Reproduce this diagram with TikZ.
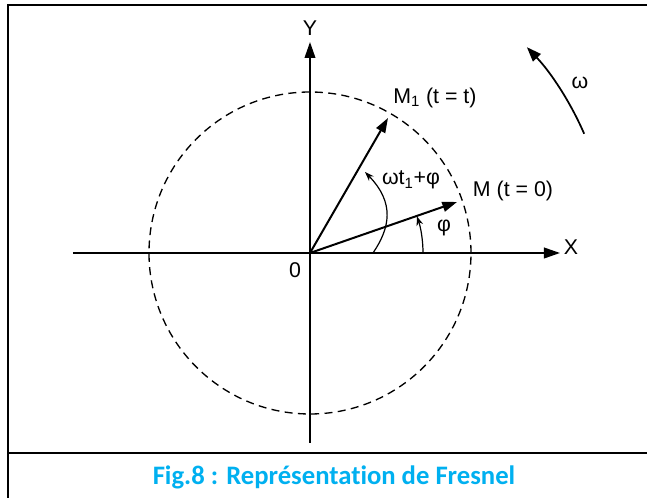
\documentclass[tikz,border=0pt]{standalone}
\usepackage{fontspec}
\setmainfont{Liberation Sans}
\newfontfamily\captionfont[Ligatures=NoCommon]{Carlito}
\usetikzlibrary{arrows.meta, positioning}
\definecolor{figblue}{HTML}{00B0F0}

\begin{document}
\begin{tikzpicture}[x=0.75pt, y=0.75pt,
  axis/.style={line width=1.3pt, -{Triangle[length=12pt,width=8pt]}},
  vector/.style={line width=1.5pt, -{Triangle[length=11pt,width=7.5pt]}},
  anglearrow/.style={line width=0.9pt, -{Stealth[length=7pt,width=5pt]}},
  lbl/.style={font=\fontsize{16}{19}\selectfont, inner sep=1pt}]
  % Frame and caption
  \useasboundingbox[fill=white] (-310,-245) rectangle (337,253);
  \draw[line width=1.5pt] (-302,-260) -- (-302,248) -- (360,248);
  \draw[line width=1.5pt] (-302,-200) -- (360,-200);
  \node[font=\captionfont\bfseries\fontsize{20}{24}\selectfont, text=figblue] (caption) at (24,-224) {Fig.8 : Représentation de Fresnel};

  % Axes
  \coordinate (O) at (0,0);
  \coordinate (xleft) at (-237,0);
  \coordinate (xright) at (250,0);
  \coordinate (ybottom) at (0,-190);
  \coordinate (ytop) at (0,211);
  \draw[axis] (xleft) -- (xright);
  \draw[axis] (ybottom) -- (ytop);
  \node[lbl] (xlabel) at (261,6) {X};
  \node[lbl] (ylabel) at (0,225) {Y};
  \node[lbl] (origin) at (-15,-17) {0};

  % Circle
  \draw[line width=1pt, dash pattern=on 6pt off 4pt] (O) circle[radius=161];

  % Vectors
  \coordinate (M) at (147,51);
  \coordinate (M1) at (78,135);
  \draw[vector] (O) -- (M);
  \draw[vector] (O) -- (M1);
  \node[lbl] (mlabel) at (203,62) {M (t = 0)};
  \node[lbl] (m1label) at (125,155) {M\textsubscript{1} (t = t)};

  % Angles
  \coordinate (phistart) at (113,0);
  \draw[anglearrow] (phistart) arc[start angle=0, end angle=19, radius=113];
  \node[lbl] (philabel) at (134,25) {φ};
  \coordinate (wtstart) at (63,0);
  \coordinate (wtend) at (55,81);
  \draw[anglearrow] (wtstart) .. controls (80,25) and (85,50) .. (wtend);
  \node[lbl] (wtlabel) at (101,73) {ωt\textsubscript{1}+φ};

  % Rotation sense
  \coordinate (wstart) at (23.5:299);
  \draw[line width=1.3pt, -{Triangle[length=11pt,width=8pt]}] (wstart) arc[start angle=23.5, end angle=43.5, radius=299];
  \node[lbl] (wlabel) at (270,170) {ω};
\end{tikzpicture}
\end{document}
